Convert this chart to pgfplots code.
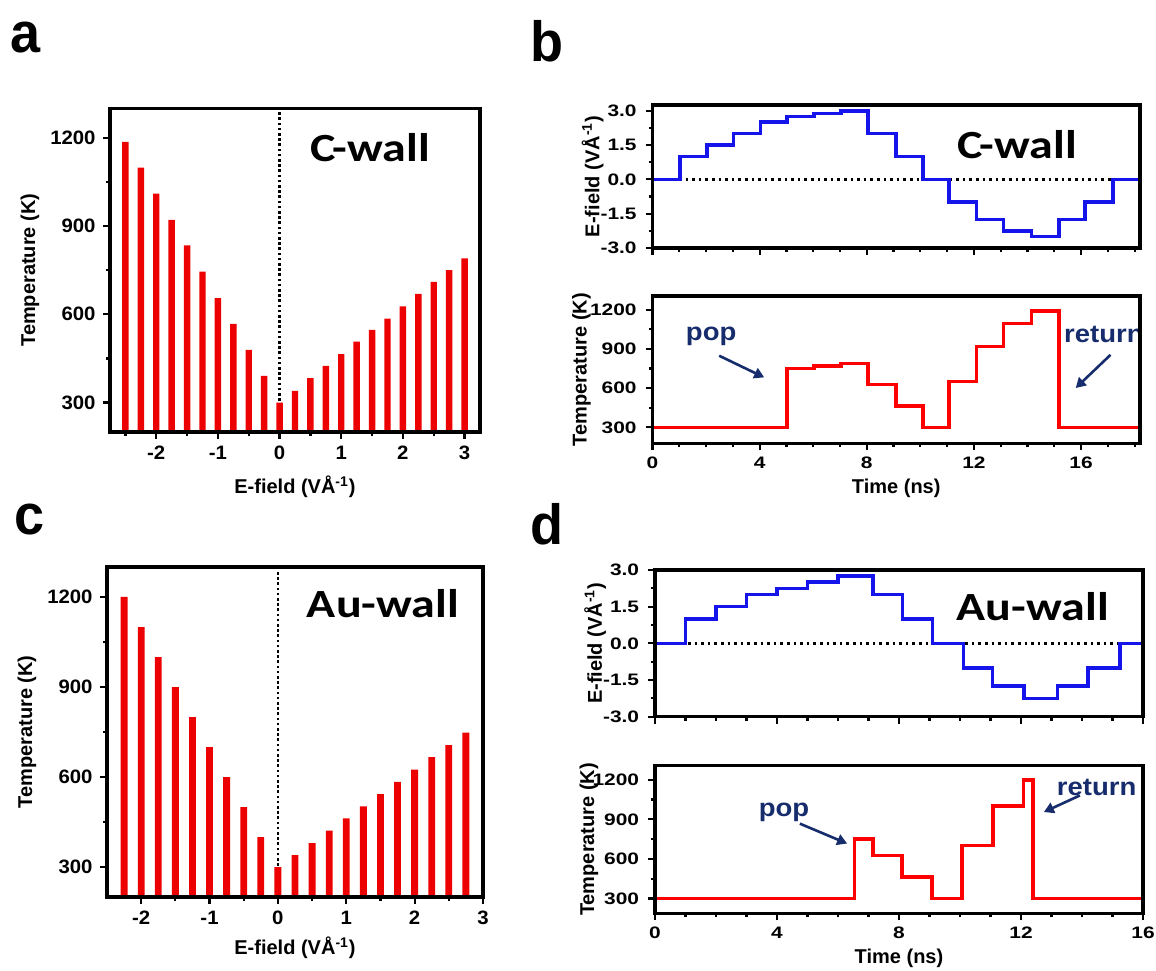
\documentclass[border=0pt]{standalone}
\usepackage{pgfplots}
\pgfplotsset{compat=1.18}
\usepackage{fontspec}
\setmainfont{Liberation Sans}
\newfontfamily\calib{Carlito}
\usetikzlibrary{arrows.meta}

\definecolor{barred}{RGB}{236,0,0}
\definecolor{lineblue}{RGB}{20,20,235}
\definecolor{navy}{RGB}{22,44,108}

\pgfplotsset{
  base/.style={
    scale only axis,
    anchor=south west,
    axis line style={line width=1.7pt},
    tick style={black, line width=1.1pt},
    major tick length=3.5pt,
    minor tick length=2pt,
    tick align=outside,
    xtick pos=left, ytick pos=left,
    axis on top,
    /pgf/number format/assume math mode=true,
    /pgf/number format/1000 sep={},
    tick label style={font=\bfseries\fontsize{9.7}{11}\selectfont, xscale=1.05},
    label style={font=\bfseries\fontsize{10}{12}\selectfont},
  },
  narrowticks/.style={
    tick label style={font=\bfseries\fontsize{8.3}{9}\selectfont, xscale=1.2},
  },
}
\tikzset{
  wall/.style={font=\calib\bfseries\fontsize{20}{22}\selectfont, xscale=1.2},
  ann/.style={navy, font=\bfseries\fontsize{12.5}{14}\selectfont, xscale=1.1},
  annarrow/.style={navy, line width=1.3pt, -{Triangle[length=5pt,width=5.5pt]}},
}

\begin{document}
\begin{tikzpicture}
\path[use as bounding box] (0,0) rectangle (578pt,485pt);

% ---------------- panel a ----------------
\begin{axis}[base, at={(55pt,269pt)}, width=185pt, height=161.85pt,
  xmin=-2.75, xmax=3.25, ymin=200, ymax=1300,
  xtick={-2,-1,0,1,2,3}, minor xtick={-2.5,-1.5,-0.5,0.5,1.5,2.5},
  ytick={300,600,900,1200}, minor ytick={450,750,1050},
  xlabel={E-field (VÅ\textsuperscript{-1})}, ylabel={Temperature (K)},
  xlabel style={at={([yshift=-27.5pt]axis description cs:0.5,0)}, anchor=center},
  ylabel style={at={([xshift=-40pt]axis description cs:0,0.5)}, anchor=center},
]
\addplot[black, line width=1.4pt, dash pattern=on 1.3pt off 1.3pt] coordinates {(0,200) (0,1300)};
\addplot[ybar, bar width=0.105, fill=barred, draw=none] coordinates {
(-2.5,1186) (-2.25,1098) (-2,1010) (-1.75,921) (-1.5,834) (-1.25,745) (-1,655) (-0.75,567)
(-0.5,479) (-0.25,391) (0,300) (0.25,340) (0.5,383) (0.75,425) (1,465) (1.25,507)
(1.5,547) (1.75,585) (2,627) (2.25,669) (2.5,710) (2.75,750) (3,790)};
\node[wall] at (axis description cs:0.703,0.88) {C-wall};
\end{axis}

% ---------------- panel c ----------------
\begin{axis}[base, at={(53.5pt,36.5pt)}, width=188pt, height=165pt,
  xmin=-2.5, xmax=3, ymin=200, ymax=1300,
  xtick={-2,-1,0,1,2,3}, minor xtick={-1.5,-0.5,0.5,1.5,2.5},
  ytick={300,600,900,1200}, minor ytick={450,750,1050},
  xlabel={E-field (VÅ\textsuperscript{-1})}, ylabel={Temperature (K)},
  xlabel style={at={([yshift=-25.5pt]axis description cs:0.5,0)}, anchor=center},
  ylabel style={at={([xshift=-40pt]axis description cs:0,0.5)}, anchor=center},
]
\addplot[black, line width=1.4pt, dash pattern=on 1.3pt off 1.3pt] coordinates {(0,200) (0,1300)};
\addplot[ybar, bar width=0.1, fill=barred, draw=none] coordinates {
(-2.25,1200) (-2,1100) (-1.75,1000) (-1.5,900) (-1.25,800) (-1,700) (-0.75,600)
(-0.5,500) (-0.25,400) (0,300) (0.25,340) (0.5,380) (0.75,421) (1,462) (1.25,502)
(1.5,543) (1.75,584) (2,625) (2.25,666) (2.5,706) (2.75,748)};
\node[wall] at (axis description cs:0.734,0.888) {Au-wall};
\end{axis}

% ---------------- panel b top ----------------
\begin{axis}[base, narrowticks, at={(326.25pt,361pt)}, width=243.75pt, height=71.5pt,
  xmin=0, xmax=18.2, ymin=-3, ymax=3.25,
  xtick={0,4,8,12,16}, minor xtick={1,2,3,5,6,7,9,10,11,13,14,15,17,18},
  xticklabels={},
  ytick={-3,-1.5,0,1.5,3}, minor ytick={-2.25,-0.75,0.75,2.25},
  yticklabel style={/pgf/number format/.cd, fixed, fixed zerofill, precision=1},
  ylabel={E-field (VÅ\textsuperscript{-1})},
  ylabel style={at={([xshift=-30pt]axis description cs:0,0.5)}, anchor=center},
]
\addplot[black, line width=1.3pt, dash pattern=on 1.3pt off 2pt] coordinates {(0,0) (18.2,0)};
\addplot[const plot, lineblue, line width=1.8pt] coordinates {
(0,0) (1.03,1) (2.03,1.5) (3.03,2) (4.03,2.5) (5.03,2.75) (6.03,2.875) (7.03,3)
(8.05,2) (9.08,1) (10.1,0) (11.08,-1) (12.1,-1.75) (13.1,-2.25) (14.15,-2.5)
(15.18,-1.75) (16.15,-1) (17.2,0) (18.2,0)};
\node[wall] at (axis description cs:0.748,0.72) {C-wall};
\end{axis}

% ---------------- panel b bottom ----------------
\begin{axis}[base, narrowticks, at={(326.25pt,263.35pt)}, width=243.75pt, height=73.65pt,
  xmin=0, xmax=18.2, ymin=178, ymax=1305,
  xtick={0,4,8,12,16}, minor xtick={1,2,3,5,6,7,9,10,11,13,14,15,17,18},
  ytick={300,600,900,1200}, minor ytick={450,750,1050},
  xlabel={Time (ns)}, ylabel={Temperature (K)},
  xlabel style={at={([yshift=-22.5pt]axis description cs:0.5,0)}, anchor=center},
  ylabel style={at={([xshift=-35.5pt]axis description cs:0,0.5)}, anchor=center},
]
\addplot[const plot, red, line width=1.8pt] coordinates {
(0,300) (5.03,750) (6.03,768) (7.03,790) (8.05,627) (9.08,462) (10.1,300)
(11.08,652) (12.1,918) (13.1,1096) (14.15,1188) (15.18,300) (18.2,300)};
\node[ann] at (axis cs:2.19,1000) {pop};
\draw[annarrow] (axis cs:2.49,848) -- (axis cs:4.17,682);
\node[ann] at (axis cs:16.85,1013) {return};
\draw[annarrow] (axis cs:17.1,855) -- (axis cs:15.8,601);
\end{axis}

% ---------------- panel d top ----------------
\begin{axis}[base, narrowticks, at={(327.5pt,126.65pt)}, width=244pt, height=73.35pt,
  xmin=0, xmax=16, ymin=-3, ymax=3,
  xtick={0,4,8,12,16}, minor xtick={1,2,3,5,6,7,9,10,11,13,14,15},
  xticklabels={},
  ytick={-3,-1.5,0,1.5,3}, minor ytick={-2.25,-0.75,0.75,2.25},
  yticklabel style={/pgf/number format/.cd, fixed, fixed zerofill, precision=1},
  ylabel={E-field (VÅ\textsuperscript{-1})},
  ylabel style={at={([xshift=-30pt]axis description cs:0,0.5)}, anchor=center},
]
\addplot[black, line width=1.3pt, dash pattern=on 1.3pt off 2pt] coordinates {(0,0) (16,0)};
\addplot[const plot, lineblue, line width=1.8pt] coordinates {
(0,0) (1,1) (2,1.5) (3,2) (4,2.25) (5,2.5) (6,2.75) (7.15,2) (8.12,1) (9.1,0)
(10.12,-1) (11.07,-1.75) (12.1,-2.25) (13.2,-1.75) (14.2,-1) (15.25,0) (16,0)};
\node[wall] at (axis description cs:0.774,0.75) {Au-wall};
\end{axis}

% ---------------- panel d bottom ----------------
\begin{axis}[base, narrowticks, at={(327.5pt,28.35pt)}, width=244pt, height=73.9pt,
  xmin=0, xmax=16, ymin=187, ymax=1308,
  xtick={0,4,8,12,16}, minor xtick={1,2,3,5,6,7,9,10,11,13,14,15},
  ytick={300,600,900,1200}, minor ytick={450,750,1050},
  xlabel={Time (ns)}, ylabel={Temperature (K)},
  xlabel style={at={([yshift=-22.5pt]axis description cs:0.5,0)}, anchor=center},
  ylabel style={at={([xshift=-33pt]axis description cs:0,0.5)}, anchor=center},
]
\addplot[const plot, red, line width=1.8pt] coordinates {
(0,300) (6.54,750) (7.14,625) (8.1,463) (9.08,300) (10.07,700) (11.08,1000)
(12.08,1200) (12.4,300) (16,300)};
\node[ann] at (axis cs:4.23,955) {pop};
\draw[annarrow] (axis cs:4.75,867) -- (axis cs:6.3,716);
\node[ann] at (axis cs:14.48,1144) {return};
\draw[annarrow] (axis cs:13.93,1081) -- (axis cs:12.75,955);
\end{axis}

% ---------------- panel letters ----------------
\begin{scope}[every node/.style={anchor=base west, font=\bfseries\fontsize{27}{29}\selectfont, inner sep=0pt, yscale=1.05}]
\node at (5pt,458.5pt) {a};
\node at (265pt,454pt) {b};
\node at (7pt,217.5pt) {c};
\node at (265pt,212.5pt) {d};
\end{scope}
\end{tikzpicture}
\end{document}
